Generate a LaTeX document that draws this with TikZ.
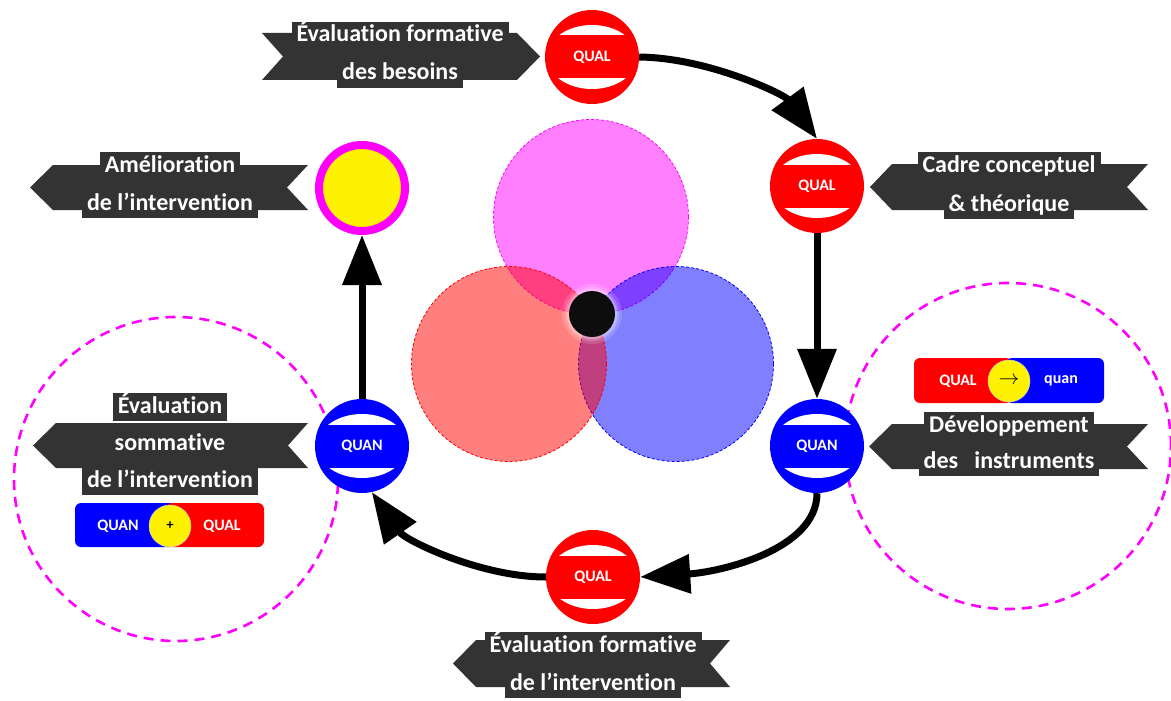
\documentclass[tikz,border=0pt]{standalone}
\usepackage{fontspec}
\setmainfont[Ligatures=NoCommon]{Carlito}
\usetikzlibrary{arrows.meta}
\definecolor{lbg}{HTML}{333333}
\definecolor{mag}{HTML}{FF00FF}
\definecolor{dotblack}{HTML}{0D0D0D}
\newcommand\qnode[5]{%
  \node[circle, fill=#4, minimum size=94pt, inner sep=0pt] (#1) at (#2,#3) {};
  \begin{scope}[shift={(#2,#3)}]
    \clip (0,0) ellipse (45 and 32);
    \fill[white] (-50,-40) rectangle (50,-21.5);
    \fill[white] (-50,21.5) rectangle (50,40);
  \end{scope}
  \node[font=\fontsize{16}{19}\selectfont\bfseries, text=white] (#1t) at (#1) {#5};
}
% right-pointing ribbon: xleft, xnotch, xslant, xtip, ytop, ybot
\newcommand\ribR[6]{%
  \fill[lbg] (#1,#5) -- (#3,#5) -- (#4,{(#5+#6)/2}) -- (#3,#6) -- (#1,#6) -- (#2,{(#5+#6)/2}) -- cycle;
}
% left-pointing ribbon: xtip, xslant, xouter, xnotch, ytop, ybot
\newcommand\ribL[6]{%
  \fill[lbg] (#1,{(#5+#6)/2}) -- (#2,#5) -- (#3,#5) -- (#4,{(#5+#6)/2}) -- (#3,#6) -- (#2,#6) -- cycle;
}
\tikzset{
  lbl/.style={fill=lbg, text=white, font=\fontsize{24}{28}\selectfont\bfseries,
    inner xsep=5pt, inner ysep=2pt, text height=18pt, text depth=6pt},
  arr/.style={line width=7pt, -{Triangle[length=50pt,width=38pt]}},
  venn/.style={circle, minimum size=195pt, inner sep=0pt, dash pattern=on 3pt off 2pt, line width=0.8pt, fill opacity=0.5},
  bigdash/.style={circle, draw=mag, line width=2.6pt, dash pattern=on 10pt off 7pt, inner sep=0pt},
  pill/.style={rounded corners=6pt},
  pilltxt/.style={font=\fontsize{16}{19}\selectfont\bfseries, text=white},
}
\begin{document}
\begin{tikzpicture}[x=1pt,y=-1pt]
\fill[white] (0,0) rectangle (1171,701);
\useasboundingbox (0,0) rectangle (1171,701);

% dashed magenta circles
\node[bigdash, minimum size=324pt] (dl) at (176,479) {};
\node[bigdash, minimum size=326pt] (dr) at (1008,446) {};

% Venn
\node[venn, draw=mag, fill=mag] (vm) at (591,217) {};
\node[venn, draw=blue, fill=blue] (vb) at (676,364) {};
\node[venn, draw=red, fill=red] (vr) at (509,364) {};
\fill[white, opacity=0.15] (592,314) circle (30);
\fill[white, opacity=0.2] (592,314) circle (27);
\fill[white, opacity=0.25] (592,314) circle (25);
\node[circle, fill=dotblack, minimum size=46pt, inner sep=0pt] (dot) at (592,314) {};

% nodes
\qnode{q1}{592}{57}{red}{QUAL}
\qnode{q2}{817}{186}{red}{QUAL}
\qnode{q3}{817}{446}{blue}{QUAN}
\qnode{q4}{593}{577}{red}{QUAL}
\qnode{q5}{362}{446}{blue}{QUAN}
\node[circle, fill=yellow, draw=mag, line width=8pt, minimum size=86pt, inner sep=0pt] (y1) at (362,188) {};

\draw[arr] (q1.east) .. controls (710,58) and (785,95) .. (q2.north);
\draw[arr] (q2.south) -- (q3.north);
\draw[arr] (q3.south) .. controls (817,550) and (720,572) .. (q4.east);
\draw[arr] (q4.west) .. controls (480,577) and (405,540) .. (q5.-78);
\draw[arr] (q5.north) -- (y1.south);

% label 1
\ribR{262}{283}{517}{540}{33}{80}
\node[lbl] (l1a) at (400,36) {Évaluation formative};
\node[lbl] (l1b) at (400,74) {des besoins};

% label 2
\ribL{870}{892}{1148}{1127}{164}{210}
\node[lbl] (l2a) at (1009,166) {Cadre conceptuel};
\node[lbl] (l2b) at (1009,205) {\& théorique};

% label 3
\ribL{869}{892}{1148}{1127}{424}{469}
\node[lbl] (l3a) at (1009,426) {Développement};
\node[lbl] (l3b) at (1009,462) {des\ \ \ instruments};

% label 4
\ribL{30}{53}{308}{287}{165}{210}
\node[lbl] (l4a) at (170,166) {Amélioration};
\node[lbl] (l4b) at (170,204) {de l’intervention};

% label 5
\ribL{33}{56}{308}{288}{423}{468}
\node[lbl] (l5a) at (170,407) {Évaluation};
\node[lbl] (l5b) at (170,444) {sommative};
\node[lbl] (l5c) at (170,481) {de l’intervention};

% label 6
\ribL{453}{476}{730}{710}{640}{687}
\node[lbl] (l6a) at (593,646) {Évaluation formative};
\node[lbl] (l6b) at (593,684) {de l’intervention};

% QUAL -> quan
\fill[red, pill] (914,358) rectangle (1012,403);
\fill[blue, pill] (1006,358) rectangle (1104,403);
\node[circle, fill=yellow, draw=gray!40, line width=0.5pt, minimum size=42pt, inner sep=0pt, font=\fontsize{20}{22}\selectfont] (yc1) at (1009,381) {\(\rightarrow\)};
\node[pilltxt] (p1a) at (958,381) {QUAL};
\node[pilltxt] (p1b) at (1061,381) {quan};

% QUAN + QUAL
\fill[blue, pill] (75,503) rectangle (176,547);
\fill[red, pill] (166,503) rectangle (264,547);
\node[circle, fill=yellow, draw=gray!40, line width=0.5pt, minimum size=42pt, inner sep=0pt, font=\fontsize{14}{16}\selectfont\bfseries] (yc2) at (170,526) {+};
\node[pilltxt] (p2a) at (118,526) {QUAN};
\node[pilltxt] (p2b) at (222,526) {QUAL};
\end{tikzpicture}
\end{document}
